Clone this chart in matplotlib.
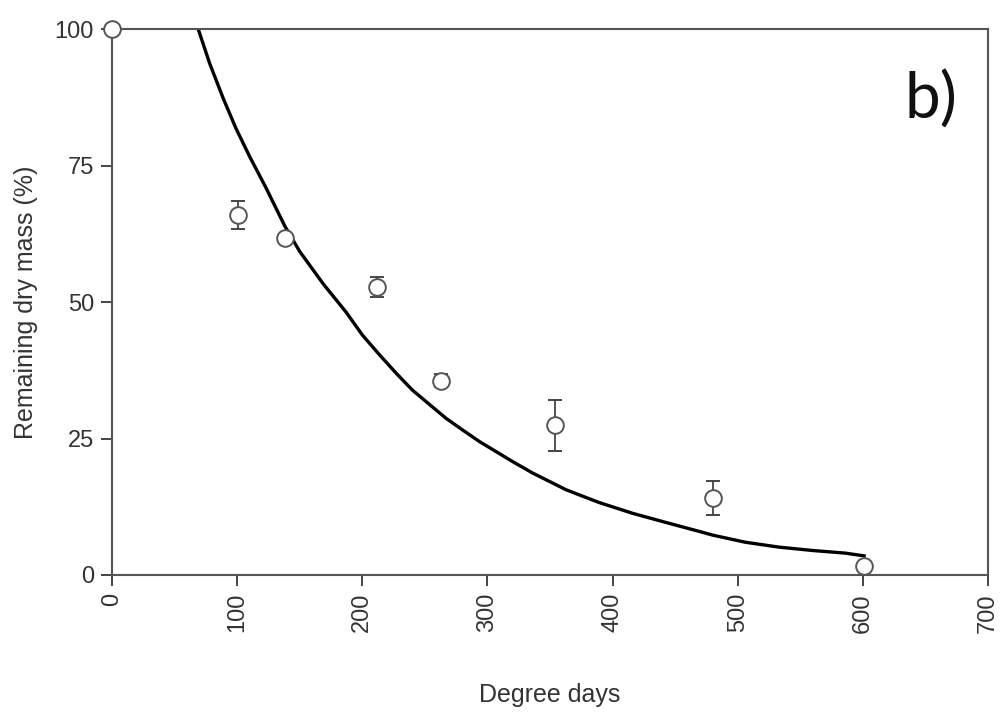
import matplotlib
matplotlib.use("Agg")
import matplotlib.pyplot as plt

plt.rcParams['font.family'] = ['Liberation Sans', 'DejaVu Sans']

# observed remaining dry mass
degree_days = [0, 101, 138, 212, 263, 354, 480, 601]
mass = [100, 66.0, 61.8, 52.8, 35.6, 27.4, 14.1, 1.6]
mass_err = [0, 2.5, 0, 1.9, 1.2, 4.75, 3.05, 0]

# fitted decay curve
fit_x = [69, 78, 89, 99, 110, 123, 138, 150, 169, 187, 200, 214, 227, 240,
         254, 267, 280, 294, 307, 320, 336, 363, 389, 416, 443, 469, 480,
         506, 533, 559, 586, 601]
fit_y = [100, 93.8, 87.3, 81.9, 76.7, 71.0, 64.0, 59.3, 53.3, 48.2, 44.0,
         40.3, 37.0, 33.9, 31.2, 28.7, 26.6, 24.4, 22.6, 20.8, 18.7, 15.6,
         13.3, 11.3, 9.6, 8.0, 7.3, 6.0, 5.1, 4.5, 4.0, 3.5]

xticks = [0, 100, 200, 300, 400, 500, 600, 700]
yticks = [0, 25, 50, 75, 100]

fig = plt.figure(figsize=(10.01, 7.16), dpi=100)
ax = fig.add_axes([0.1119, 0.197, 0.8751, 0.7618])

ax.plot(fit_x, fit_y, color='black', lw=2.4, zorder=2)
ax.errorbar(degree_days, mass, yerr=mass_err, fmt='o', ms=12, mfc='white',
            mec='#555555', mew=1.4, ecolor='#444444', elinewidth=1.3,
            capsize=5, capthick=1.3, zorder=3, clip_on=False)

ax.set_xlim(0, 700)
ax.set_ylim(0, 100)
ax.set_xticks(xticks)
ax.set_yticks(yticks)
ax.tick_params(axis='both', direction='out', length=8, width=1.4,
               color='#444444', labelsize=17, labelcolor='#333333', pad=5)
ax.tick_params(axis='x', labelrotation=90)
for s in ax.spines.values():
    s.set_color('#555555')
    s.set_linewidth(1.5)

ax.set_xlabel('Degree days', fontsize=18, color='#333333', labelpad=36)
ax.set_ylabel('Remaining dry mass (%)', fontsize=18, color='#333333', labelpad=12)

ax.text(0.935, 0.87, 'b)', transform=ax.transAxes, fontsize=46,
        family=['Lato', 'DejaVu Sans'], ha='center', va='center', color='#111111')

fig.savefig('out.png', dpi=100)
